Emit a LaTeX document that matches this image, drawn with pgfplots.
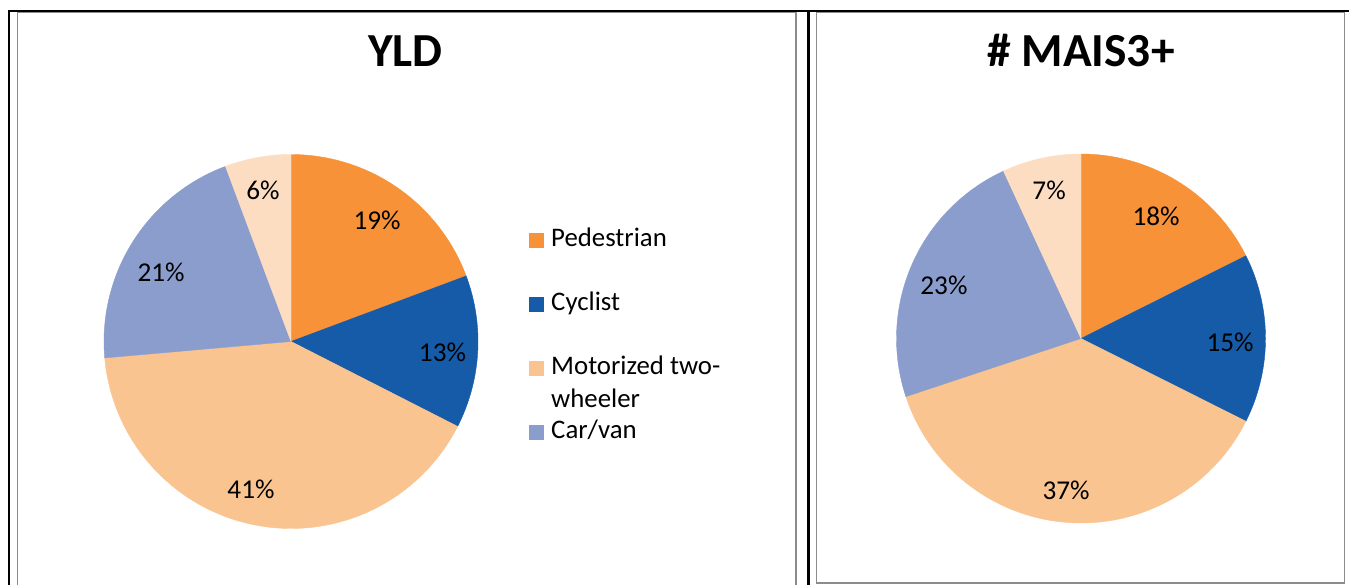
\documentclass[border=0pt]{standalone}
\usepackage{pgfplots}
\pgfplotsset{compat=1.18}
\usepackage{fontspec}
\setmainfont{Carlito}
\definecolor{ped}{HTML}{F79239}
\definecolor{cyc}{HTML}{155BA8}
\definecolor{mot}{HTML}{FAC490}
\definecolor{car}{HTML}{8B9DCC}
\definecolor{oth}{HTML}{FDDDC2}
\definecolor{frame}{HTML}{8C8C8C}
\newcommand{\lbl}{\fontsize{13.6}{16}\selectfont}
% #1 cumulative share before the slice (%), #2 share (%), #3 colour
\newcommand{\pieslice}[3]{%
  \pgfmathsetmacro\sa{90-3.6*(#1)}%
  \pgfmathsetmacro\sb{90-3.6*(#1+#2)}%
  \addplot[fill=#3, draw=#3, line width=0.2pt, domain=\sb:\sa, samples=90, forget plot, variable=\t]
    ({cos(\t)},{sin(\t)}) -- (axis cs:0,0) -- cycle;}
\pgfplotsset{pie/.style={hide axis, scale only axis, axis equal image,
  xmin=-1, xmax=1, ymin=-1, ymax=1, clip=false, anchor=center,
  title style={anchor=center, font=\bfseries\fontsize{23.7}{28}\selectfont}}}
\begin{document}
\begin{tikzpicture}
\useasboundingbox[fill=white] (0,0) rectangle (674.5pt,292.5pt);
% table frame
\draw[line width=1pt, black] (4pt,287pt) -- (674.5pt,287pt);
\draw[line width=1pt, black] (4.5pt,287.5pt) -- (4.5pt,0pt);
\draw[line width=1.3pt, black] (404.1pt,287.5pt) -- (404.1pt,0pt);
\draw[line width=0.75pt, frame] (8.75pt,0pt) -- (8.75pt,286.15pt) -- (398.1pt,286.15pt) -- (398.1pt,0pt);
\draw[line width=0.75pt, frame] (408.35pt,1.1pt) -- (408.35pt,286.15pt) -- (672.35pt,286.15pt) -- (672.35pt,1.1pt) -- cycle;

% YLD pie
\begin{axis}[pie, width=187pt, height=187pt, at={(145.5pt,121.75pt)},
  title={YLD}, title style={at={(0.806,1.245)}},
  legend image code/.code={\fill (0pt,6.15pt) rectangle (7.3pt,13.45pt);},
  legend style={draw=none, fill=none, inner sep=0pt, column sep=3.6pt,
    at={(1.1364,0.8043)}, anchor=north west,
    nodes={inner sep=0pt, text height=9pt, text depth=23pt,
      font=\fontsize{13.4}{16.5}\selectfont}},
  legend cell align=left]
\pieslice{0}{19.3}{ped}
\pieslice{19.3}{13.2}{cyc}
\pieslice{32.5}{41.1}{mot}
\pieslice{73.6}{20.7}{car}
\pieslice{94.3}{5.7}{oth}
\addlegendimage{fill=ped, draw=none}\addlegendentry{Pedestrian}
\addlegendimage{fill=cyc, draw=none}\addlegendentry{Cyclist}
\addlegendimage{fill=mot, draw=none}\addlegendentry{\vtop{\hbox{Motorized two-}\hbox{wheeler}}}
\addlegendimage{fill=car, draw=none}\addlegendentry{Car/van}
\node[font=\lbl] at (axis cs:0.46,0.65) {19\%};
\node[font=\lbl] at (axis cs:0.81,-0.056) {13\%};
\node[font=\lbl] at (axis cs:-0.214,-0.789) {41\%};
\node[font=\lbl] at (axis cs:-0.695,0.372) {21\%};
\node[font=\lbl] at (axis cs:-0.15,0.81) {6\%};
\end{axis}

% MAIS3+ pie
\begin{axis}[pie, width=184.5pt, height=184.5pt, at={(540.5pt,123.25pt)},
  title={\# MAIS3+}, title style={at={(0.5,1.249)}}]
\pieslice{0}{17.6}{ped}
\pieslice{17.6}{14.8}{cyc}
\pieslice{32.4}{37.5}{mot}
\pieslice{69.9}{23.2}{car}
\pieslice{93.1}{6.9}{oth}
\node[font=\lbl] at (axis cs:0.407,0.664) {18\%};
\node[font=\lbl] at (axis cs:0.808,-0.019) {15\%};
\node[font=\lbl] at (axis cs:-0.081,-0.821) {37\%};
\node[font=\lbl] at (axis cs:-0.743,0.29) {23\%};
\node[font=\lbl] at (axis cs:-0.173,0.805) {7\%};
\end{axis}
\end{tikzpicture}
\end{document}
